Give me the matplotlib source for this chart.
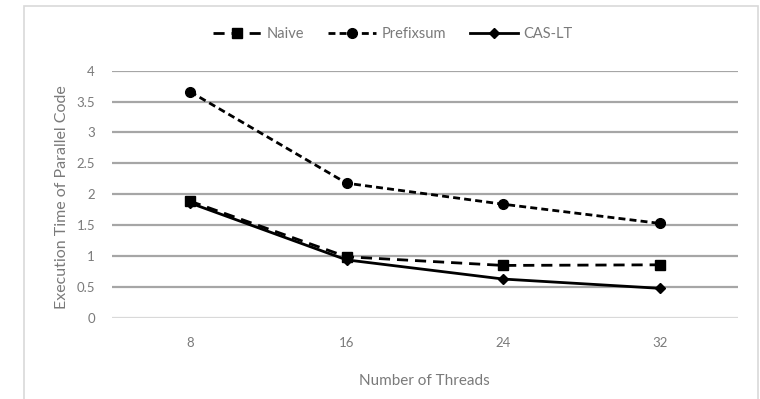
import matplotlib
matplotlib.use("Agg")
import matplotlib.pyplot as plt
from matplotlib.patches import Rectangle

threads = ["8", "16", "24", "32"]
naive = [1.89, 0.99, 0.85, 0.86]
prefixsum = [3.66, 2.18, 1.84, 1.53]
cas_lt = [1.86, 0.94, 0.63, 0.48]
y_ticks = [0, 0.5, 1, 1.5, 2, 2.5, 3, 3.5, 4]
y_labels = ["0", "0.5", "1", "1.5", "2", "2.5", "3", "3.5", "4"]

plt.rcParams["font.family"] = ["Lato", "DejaVu Sans"]
txt = "#7a7a7a"

fig = plt.figure(figsize=(7.6, 3.99), dpi=100)
ax = fig.add_axes([0.147, 0.203, 0.824, 0.620])

# chart border like Excel
fig.patches.append(Rectangle((24 / 760, -0.05), (758 - 24) / 760, 1 - 6 / 399 + 0.05,
                             transform=fig.transFigure, fill=False,
                             edgecolor="#d9d9d9", linewidth=1.2))

x = range(len(threads))
ax.plot(x, naive, color="black", linewidth=2, linestyle=(0, (4, 2.5)),
        marker="s", markersize=7, label="Naive")
ax.plot(x, prefixsum, color="black", linewidth=2, linestyle=(0, (2.5, 1.5)),
        marker="o", markersize=7, label="Prefixsum")
ax.plot(x, cas_lt, color="black", linewidth=2, linestyle="-",
        marker="D", markersize=5, label="CAS-LT")

ax.set_xlim(-0.5, len(threads) - 0.5)
ax.set_ylim(0, 4)
ax.set_xticks(list(x))
ax.set_xticklabels(threads)
ax.set_yticks(y_ticks)
ax.set_yticklabels(y_labels)
ax.tick_params(length=0, labelsize=9.5, colors=txt)
ax.tick_params(axis="y", pad=12)
ax.tick_params(axis="x", pad=14)

for yv in y_ticks[1:]:
    ax.axhline(yv, color="#a6a6a6", linewidth=1.6, zorder=0)
ax.axhline(0, color="#d9d9d9", linewidth=1.6, zorder=0)
for s in ax.spines.values():
    s.set_visible(False)

ax.set_ylabel("Execution Time of Parallel Code", fontsize=11.5, color=txt)
ax.yaxis.set_label_coords(-0.068, 0.49)
ax.set_xlabel("Number of Threads", fontsize=11, color=txt, labelpad=18)

fig.legend(loc="center", bbox_to_anchor=(0.517, 0.915), ncol=3, frameon=False,
           fontsize=10.5, labelcolor=txt, handlelength=3.3, columnspacing=1.6,
           handletextpad=0.4)

fig.savefig("out.png", dpi=100)
